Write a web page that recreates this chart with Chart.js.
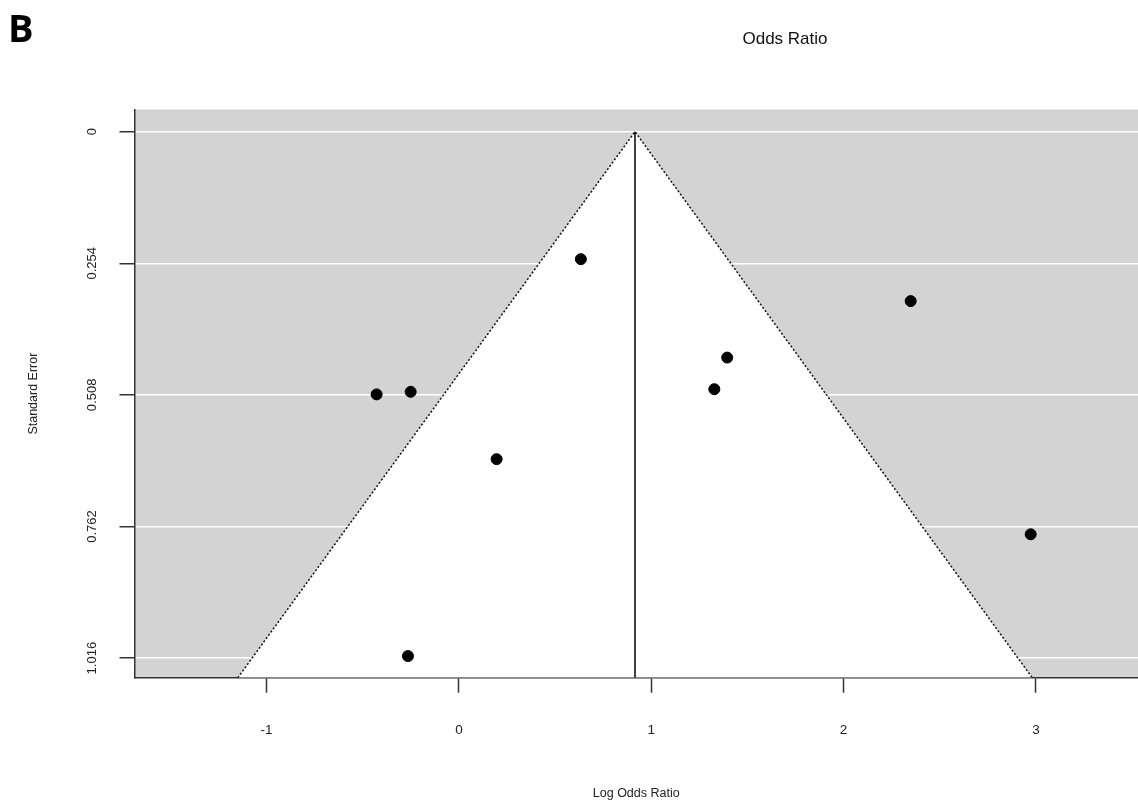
<!DOCTYPE html>
<html>
<head>
<meta charset="utf-8">
<script src="https://cdn.jsdelivr.net/npm/chart.js@4.4.1/dist/chart.umd.min.js"></script>
<style>
  body { margin: 0; background: #fff; }
  #wrap { width: 1138px; height: 802px; }
</style>
</head>
<body>
<div id="wrap"><canvas id="funnel" width="1138" height="802"></canvas></div>
<script>
// estudos (log odds ratio e erro padrao)
const studyLogOR = [0.634, 2.349, 1.395, 1.328, -0.428, -0.251, 0.196, 2.973, -0.265];
const studySE = [0.246, 0.327, 0.436, 0.497, 0.507, 0.502, 0.632, 0.777, 1.012];

// estimativa combinada e limites dos eixos
const pooledLogOR = 0.9155;
const seMin = -0.0428;
const seMax = 1.0538;
const xMin = -1.687;
const xMax = 3.531;

// marcas dos eixos
const xTicks = [-1, 0, 1, 2, 3];
const seTicks = [0, 0.254, 0.508, 0.762, 1.016];
const seTickLabels = ['0', '0.254', '0.508', '0.762', '1.016'];

const z = 1.96;
const funnelPts = [
  { x: pooledLogOR - z * seMax, y: seMax },
  { x: pooledLogOR, y: 0 },
  { x: pooledLogOR + z * seMax, y: seMax }
];
const centerLine = [{ x: pooledLogOR, y: 0 }, { x: pooledLogOR, y: seMax }];
const points = studyLogOR.map((v, i) => ({ x: v, y: studySE[i] }));

const FONT = '"Liberation Sans", Arial, sans-serif';

// fundo cinza + textos extras
const extras = {
  id: 'extras',
  beforeDraw(chart) {
    const { ctx, chartArea: a } = chart;
    ctx.save();
    ctx.fillStyle = '#d3d3d3';
    ctx.fillRect(a.left, a.top, a.right - a.left, a.bottom - a.top);
    ctx.restore();
  },
  afterDraw(chart) {
    const ctx = chart.ctx;
    const yScale = chart.scales.y;
    ctx.save();
    ctx.fillStyle = '#222';
    ctx.font = '13px ' + FONT;
    ctx.textAlign = 'center';
    ctx.textBaseline = 'middle';
    seTicks.forEach((v, i) => {
      const py = yScale.getPixelForValue(v);
      ctx.save();
      ctx.translate(92, py);
      ctx.rotate(-Math.PI / 2);
      ctx.fillText(seTickLabels[i], 0, 0);
      ctx.restore();
    });
    // titulo
    ctx.font = '17px ' + FONT;
    ctx.fillStyle = '#111';
    ctx.fillText('Odds Ratio', 785, 39);
    // letra do painel
    ctx.font = 'bold 38px "Open Sans", "DejaVu Sans", sans-serif';
    ctx.textAlign = 'left';
    ctx.textBaseline = 'alphabetic';
    ctx.fillStyle = '#000';
    ctx.fillText('B', 8, 42);
    ctx.restore();
  }
};

const ctx = document.getElementById('funnel').getContext('2d');
const funnelChart = new Chart(ctx, {
  type: 'scatter',
  data: {
    datasets: [
      {
        label: 'Funil',
        type: 'line',
        data: funnelPts,
        borderColor: '#111',
        borderWidth: 1.5,
        borderDash: [2, 2],
        backgroundColor: '#ffffff',
        fill: { value: seMax },
        pointRadius: 0,
        tension: 0,
        order: 3
      },
      {
        label: 'Centro',
        type: 'line',
        data: centerLine,
        borderColor: '#000',
        borderWidth: 1.5,
        pointRadius: 0,
        fill: false,
        order: 2
      },
      {
        label: 'Estudos',
        data: points,
        backgroundColor: '#000',
        borderColor: '#000',
        pointRadius: 5.5,
        pointHoverRadius: 5.5,
        order: 1
      }
    ]
  },
  options: {
    responsive: false,
    devicePixelRatio: 1,
    animation: false,
    events: [],
    layout: { autoPadding: false, padding: { top: 109.5, left: 0, right: 0, bottom: 0 } },
    plugins: {
      legend: { display: false },
      tooltip: { enabled: false },
      title: { display: false }
    },
    scales: {
      x: {
        type: 'linear',
        min: xMin,
        max: xMax,
        afterBuildTicks: s => { s.ticks = xTicks.map(v => ({ value: v })); },
        afterFit: s => { s.height = 124.3; s.paddingLeft = 0; s.paddingRight = 0; },
        grid: { drawOnChartArea: false, drawTicks: true, tickLength: 15, tickColor: '#333', tickWidth: 1.5 },
        border: { display: true, color: '#333', width: 1.5 },
        ticks: { color: '#222', font: { family: FONT, size: 13.5 }, padding: 29, maxRotation: 0, callback: v => String(v) },
        title: { display: true, text: 'Log Odds Ratio', color: '#222', font: { family: FONT, size: 12.5 }, padding: { top: 0, bottom: 1 } }
      },
      y: {
        type: 'linear',
        reverse: true,
        min: seMin,
        max: seMax,
        afterBuildTicks: s => { s.ticks = seTicks.map(v => ({ value: v })); },
        afterFit: s => { s.width = 134.5; s.paddingTop = 0; s.paddingBottom = 0; },
        grid: { color: '#ffffff', lineWidth: 1.5, drawTicks: true, tickLength: 15, tickColor: '#333', tickWidth: 1.5 },
        border: { display: true, color: '#333', width: 1.5 },
        ticks: { display: false },
        title: { display: true, text: 'Standard Error', color: '#222', font: { family: FONT, size: 12.5 }, padding: { top: 26, bottom: 0 } }
      }
    }
  },
  plugins: [extras]
});
</script>
</body>
</html>
